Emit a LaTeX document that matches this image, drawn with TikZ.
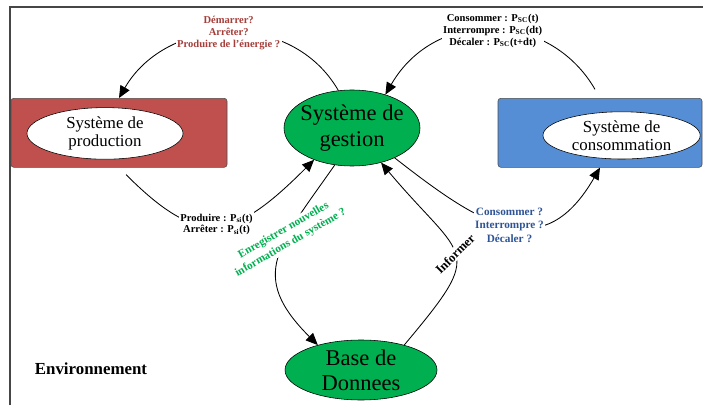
\documentclass[tikz,border=0pt]{standalone}
\usepackage{fontspec}
\setmainfont{Liberation Serif}
\usepackage{xcolor}
\definecolor{prodred}{RGB}{192,80,77}
\definecolor{consblue}{RGB}{85,142,213}
\definecolor{gestgreen}{RGB}{0,176,80}
\definecolor{cmdred}{RGB}{165,62,58}
\definecolor{cmdblue}{RGB}{46,84,150}
\definecolor{framegray}{RGB}{70,70,70}
\usepackage{tikz}
\usetikzlibrary{arrows.meta,positioning,shapes.geometric}

\begin{document}
\begin{tikzpicture}[
sysbox/.style={draw=black!70,rounded corners=2pt,minimum width=54mm,minimum height=17.25mm},
sysname/.style={ellipse,draw=black,fill=white,inner sep=-1mm,align=center,font=\fontsize{12}{13}\selectfont},
core/.style={ellipse,draw=black,fill=gestgreen,inner sep=-1.5mm,align=center,font=\fontsize{16}{18}\selectfont},
flow/.style={-{Triangle[length=3mm,width=2.6mm]},line width=0.6pt},
lab/.style={fill=white,inner sep=1pt,align=center,font=\bfseries\fontsize{7.5}{8.5}\selectfont}]
\useasboundingbox (0,0) rectangle (17.575,10.125);
\draw[framegray,line width=0.9pt] (0.25,0) -- (0.25,9.95) -- (17.575,9.95);
\node[sysbox,fill=prodred] (prodbox) at (2.975,6.805) {};
\node[sysname,minimum width=39mm,minimum height=12.9mm] (prod) at (2.625,6.79) {Système de\\production};
\node[sysbox,fill=consblue,minimum width=51mm] (consbox) at (15.0,6.805) {};
\node[sysname,minimum width=39.3mm,minimum height=11.8mm] (cons) at (15.54,6.74) {Système de\\consommation};
\node[core,minimum width=34mm,minimum height=19mm] (gest) at (8.8,6.925) {Système de\\gestion};
\node[core,minimum width=38mm,minimum height=15mm] (base) at (9.025,0.875) {Base de\\Donnees};
\node[font=\bfseries\fontsize{12}{14}\selectfont] (env) at (2.275,0.9) {Environnement};
\draw[flow] (gest.110) to[out=120,in=60,looseness=1.1] node[lab,text=cmdred] {Démarrer?\\Arrêter?\\Produire de l’énergie ?} (prodbox.north);
\draw[flow,shorten <=2.5mm] (consbox.north) to[out=120,in=60,looseness=1.2] node[lab] {Consommer : P\textsubscript{SC}(t)\\Interrompre : P\textsubscript{SC}(dt)\\Décaler : P\textsubscript{SC}(t+dt)} (gest.45);
\draw[flow,shorten <=2.5mm] (prodbox.south) to[out=-45,in=-135,looseness=1.5] node[lab] {Produire : P\textsubscript{si}(t)\\Arrêter : P\textsubscript{si}(t)} (gest.220);
\draw[flow] (gest.-35) to[out=-38,in=-120,looseness=1.4] node[lab,text=cmdblue,font=\bfseries\fontsize{8}{9.6}\selectfont] {Consommer ?\\Interrompre ?\\Décaler ?} (consbox.south);
\draw[flow] (gest.245) to[out=-125,in=135,looseness=1.4] node[lab,text=gestgreen,rotate=30,pos=.36,font=\bfseries\fontsize{8}{10}\selectfont] {Enregistrer nouvelles\\informations du système ?} (base.150);
\draw[flow] (base.30) to[out=50,in=-50,looseness=1.8] node[lab,rotate=45,font=\bfseries\fontsize{9}{10}\selectfont] {Informer} (gest.-50);
\end{tikzpicture}
\end{document}
